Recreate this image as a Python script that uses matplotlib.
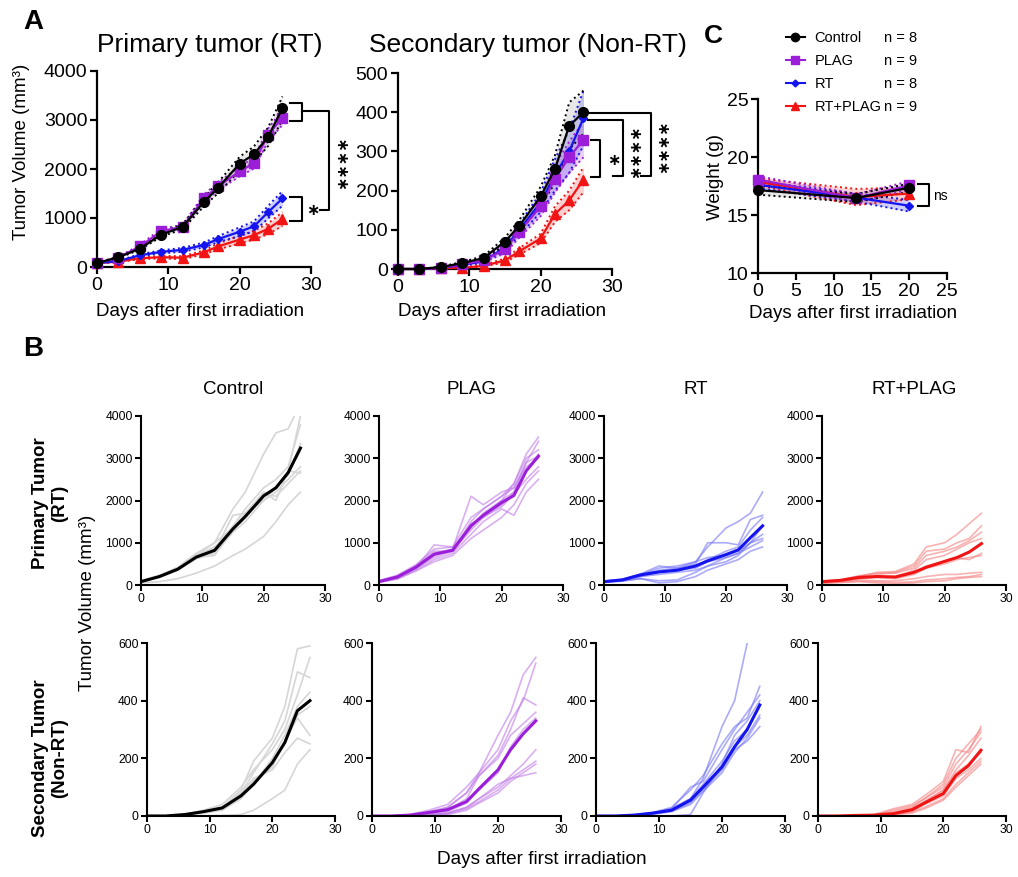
import numpy as np
import matplotlib
matplotlib.use('Agg')
import matplotlib.pyplot as plt
from matplotlib.lines import Line2D

plt.rcParams['font.family'] = ['Liberation Sans', 'DejaVu Sans']

W, H = 1018, 877

# ---------------- data ----------------
days = [0, 3, 6, 9, 12, 15, 17, 20, 22, 24, 26]
w_days = [0, 13, 20]
groups = ['Control', 'PLAG', 'RT', 'RT+PLAG']
n_labels = ['n = 8', 'n = 9', 'n = 8', 'n = 9']

# panel A, primary tumor (mean / SEM)
ctrl_pri = [80, 200, 375, 660, 820, 1330, 1620, 2110, 2300, 2660, 3240]
plag_pri = [80, 190, 420, 730, 820, 1400, 1650, 1950, 2120, 2700, 3050]
rt_pri = [80, 120, 240, 310, 350, 450, 570, 720, 830, 1120, 1400]
rtplag_pri = [80, 110, 180, 200, 190, 300, 420, 560, 650, 780, 980]
ctrl_pri_sem = [5, 15, 25, 40, 50, 90, 110, 140, 160, 190, 240]
plag_pri_sem = [5, 15, 30, 50, 40, 80, 80, 100, 110, 130, 150]
rt_pri_sem = [5, 10, 20, 30, 40, 50, 60, 90, 100, 130, 150]
rtplag_pri_sem = [5, 10, 20, 25, 30, 40, 60, 80, 90, 110, 140]

# panel A, secondary tumor (mean / SEM)
ctrl_sec = [0, 0, 5, 15, 28, 70, 110, 185, 255, 365, 400]
plag_sec = [0, 0, 3, 12, 22, 50, 95, 160, 230, 285, 330]
rt_sec = [0, 0, 3, 10, 20, 55, 100, 170, 240, 300, 385]
rtplag_sec = [0, 0, 2, 3, 8, 22, 45, 78, 140, 175, 228]
ctrl_sec_sem = [0, 0, 1, 3, 5, 10, 15, 25, 35, 60, 55]
plag_sec_sem = [0, 0, 1, 3, 5, 10, 15, 25, 35, 40, 45]
rt_sec_sem = [0, 0, 1, 2, 4, 8, 14, 25, 40, 55, 70]
rtplag_sec_sem = [0, 0, 1, 1, 2, 5, 8, 12, 20, 25, 32]

# panel C, body weight (mean / SEM)
ctrl_w = [17.15, 16.46, 17.35]
plag_w = [18.05, 16.45, 17.55]
rt_w = [17.6, 16.5, 15.8]
rtplag_w = [17.85, 16.55, 16.85]
ctrl_w_sem = [0.4, 0.35, 0.35]
plag_w_sem = [0.3, 0.35, 0.35]
rt_w_sem = [0.3, 0.35, 0.5]
rtplag_w_sem = [0.3, 0.7, 0.5]

# panel B, individual mice, primary tumor
ctrl_pri_ind = [
    [80, 200, 400, 700, 1000, 1800, 2200, 3100, 3600, 3700, 4300],
    [50, 80, 150, 280, 450, 700, 850, 1150, 1500, 1900, 2200],
    [80, 200, 380, 650, 800, 1650, 1700, 2200, 2000, 2700, 4000],
    [90, 220, 400, 700, 850, 1400, 1800, 2300, 2500, 2800, 3800],
    [70, 180, 350, 650, 700, 1300, 1600, 2100, 2300, 2600, 3350],
    [80, 190, 350, 620, 750, 1250, 1500, 2000, 2200, 2500, 2800],
    [90, 210, 400, 700, 900, 1300, 1650, 2150, 2100, 2400, 2700],
    [100, 230, 420, 750, 1000, 1350, 1700, 2000, 2300, 2700, 2650],
]
plag_pri_ind = [
    [90, 200, 400, 950, 900, 1350, 1700, 2000, 2400, 3100, 3500],
    [80, 180, 420, 750, 850, 2100, 1900, 2200, 2300, 2900, 3400],
    [100, 220, 450, 800, 800, 1500, 1800, 2100, 2400, 3000, 3200],
    [70, 150, 350, 600, 750, 1200, 1500, 1800, 1650, 2200, 2500],
    [90, 200, 420, 700, 850, 1450, 1600, 1900, 2200, 2700, 3100],
    [80, 160, 380, 650, 800, 1300, 1600, 1850, 2150, 2500, 2800],
    [100, 230, 480, 850, 900, 1600, 1800, 2100, 2300, 2800, 3000],
    [60, 140, 330, 550, 700, 1100, 1300, 1600, 1900, 2400, 2700],
    [90, 190, 400, 700, 820, 1400, 1650, 2000, 2200, 2900, 3050],
]
rt_pri_ind = [
    [90, 130, 250, 400, 450, 550, 900, 1350, 1500, 1700, 2200],
    [80, 120, 230, 350, 400, 500, 1000, 1000, 950, 1550, 1650],
    [70, 110, 200, 300, 350, 450, 600, 800, 900, 1300, 1600],
    [80, 100, 150, 100, 120, 300, 450, 650, 750, 1000, 1200],
    [60, 90, 150, 50, 80, 200, 350, 500, 600, 800, 900],
    [90, 140, 260, 450, 400, 550, 650, 700, 800, 1000, 1100],
    [80, 120, 220, 300, 350, 400, 550, 650, 750, 900, 1050],
    [70, 110, 200, 250, 300, 350, 450, 550, 700, 1000, 1400],
]
rtplag_pri_ind = [
    [90, 110, 200, 300, 320, 500, 900, 1000, 1200, 1450, 1700],
    [80, 100, 180, 250, 300, 450, 800, 850, 1000, 1100, 1400],
    [90, 120, 220, 280, 280, 400, 700, 800, 900, 1050, 1250],
    [70, 100, 150, 200, 200, 350, 600, 700, 850, 1000, 1100],
    [80, 100, 160, 200, 180, 300, 450, 550, 650, 600, 750],
    [70, 90, 150, 180, 150, 250, 400, 500, 600, 650, 700],
    [60, 80, 120, 100, 100, 150, 200, 250, 250, 280, 300],
    [50, 70, 90, 80, 60, 80, 120, 150, 180, 200, 250],
    [40, 60, 80, 50, 30, 50, 80, 100, 150, 180, 200],
]

# panel B, individual mice, secondary tumor
ctrl_sec_ind = [
    [0, 0, 5, 15, 30, 90, 190, 270, 380, 580, 590],
    [0, 0, 4, 12, 25, 80, 150, 250, 330, 500, 480],
    [0, 0, 5, 20, 40, 100, 160, 230, 300, 420, 550],
    [0, 0, 3, 10, 20, 60, 110, 200, 280, 380, 430],
    [0, 0, 3, 12, 25, 70, 120, 170, 260, 340, 280],
    [0, 0, 4, 15, 30, 80, 130, 160, 220, 270, 250],
    [0, 0, 0, 0, 2, 5, 20, 60, 90, 180, 230],
    [0, 0, 5, 18, 30, 75, 120, 180, 260, 350, 380],
]
plag_sec_ind = [
    [0, 0, 5, 20, 40, 100, 150, 280, 360, 490, 550],
    [0, 0, 3, 15, 30, 80, 150, 230, 330, 400, 530],
    [0, 0, 3, 12, 30, 80, 140, 210, 300, 410, 385],
    [0, 0, 2, 10, 20, 60, 140, 200, 280, 320, 360],
    [0, 0, 2, 8, 15, 45, 90, 150, 240, 300, 340],
    [0, 0, 1, 5, 10, 30, 60, 100, 140, 180, 230],
    [0, 0, 1, 3, 8, 25, 50, 90, 130, 160, 190],
    [0, 0, 1, 2, 5, 20, 45, 80, 120, 150, 180],
    [0, 0, 1, 3, 10, 30, 60, 110, 130, 140, 150],
]
rt_sec_ind = [
    [0, 0, 2, 10, 25, 60, 130, 310, 400, 600, np.nan],
    [0, 0, 2, 12, 30, 90, 140, 250, 310, 340, 450],
    [0, 0, 2, 10, 25, 100, 120, 230, 300, 360, 420],
    [0, 0, 0, 0, 0, 5, 80, 180, 280, 330, 400],
    [0, 0, 2, 10, 25, 60, 110, 190, 260, 300, 380],
    [0, 0, 2, 8, 20, 50, 100, 170, 240, 280, 350],
    [0, 0, 2, 8, 18, 45, 90, 160, 230, 260, 310],
    [0, 0, 1, 6, 15, 40, 85, 150, 220, 270, 340],
]
rtplag_sec_ind = [
    [0, 0, 1, 5, 25, 40, 70, 120, 230, 220, 310],
    [0, 0, 1, 4, 20, 35, 60, 110, 200, 250, 300],
    [0, 0, 1, 3, 15, 30, 60, 100, 180, 230, 290],
    [0, 0, 1, 3, 10, 25, 50, 90, 160, 210, 270],
    [0, 0, 0, 2, 8, 20, 45, 80, 140, 170, 230],
    [0, 0, 0, 2, 6, 15, 40, 70, 130, 160, 200],
    [0, 0, 0, 1, 5, 15, 30, 60, 110, 150, 190],
    [0, 0, 0, 1, 4, 10, 25, 55, 100, 140, 180],
    [0, 0, 0, 1, 5, 20, 50, 90, 150, 180, 220],
]

# ---------------- style ----------------
colors = ['black', '#9b1fd8', '#1414ee', '#f01414']
band_colors = ['#8a8a8a', '#9b1fd8', '#1414ee', '#f01414']
ind_colors = ['#d6d6d6', '#c07ae8', '#7474f5', '#f58080']
markers = ['o', 's', 'D', '^']
msizes = [7, 6.5, 4.5, 7]
STAR = dict(family='DejaVu Sans', fontsize=11.5, fontweight='bold',
            ha='center', va='center', clip_on=False)

fig = plt.figure(figsize=(W / 100, H / 100), dpi=100)


def px_axes(l, r, t, b):
    return fig.add_axes([l / W, 1 - b / H, (r - l) / W, (b - t) / H])


def ftext(x, y, s, **kw):
    return fig.text(x / W, 1 - y / H, s, **kw)


def prism(ax, lw=1.6, ticklen=5, fs=14):
    ax.spines['top'].set_visible(False)
    ax.spines['right'].set_visible(False)
    ax.spines['left'].set_linewidth(lw)
    ax.spines['bottom'].set_linewidth(lw)
    ax.tick_params(direction='out', length=ticklen, width=lw, labelsize=fs, pad=2)


def mean_panel(ax, means, sems, xs):
    for i in [3, 2, 1, 0]:
        m = np.array(means[i], float)
        s = np.array(sems[i], float)
        ax.fill_between(xs, m - s, m + s, color=band_colors[i], alpha=0.2, lw=0)
        ax.plot(xs, m - s, ':', color=colors[i], lw=1.4)
        ax.plot(xs, m + s, ':', color=colors[i], lw=1.4)
    for i in [3, 2, 1, 0]:
        ax.plot(xs, means[i], color=colors[i], marker=markers[i], ms=msizes[i],
                lw=1.6, clip_on=False, zorder=5)


def bracket(ax, x0, x1, y0, y1):
    ax.plot([x0, x1, x1, x0], [y0, y0, y1, y1], color='black', lw=1.5, clip_on=False)


def hv(ax, xs, ys):
    ax.plot(xs, ys, color='black', lw=1.5, clip_on=False)


# ---------------- panel A: primary ----------------
axA1 = px_axes(97, 311, 71, 267)
mean_panel(axA1, [ctrl_pri, plag_pri, rt_pri, rtplag_pri],
           [ctrl_pri_sem, plag_pri_sem, rt_pri_sem, rtplag_pri_sem], days)
axA1.set_xlim(0, 30)
axA1.set_ylim(0, 4000)
axA1.set_xticks([0, 10, 20, 30])
axA1.set_yticks([0, 1000, 2000, 3000, 4000])
prism(axA1)
bracket(axA1, 27.1, 28.7, 3340, 2985)
bracket(axA1, 27.1, 28.7, 1430, 940)
hv(axA1, [28.7, 32.5, 32.5, 31.2], [3180, 3180, 1160, 1160])
axA1.text(30.2, 1160, '∗', **STAR)
axA1.text(34.4, 2130, '∗∗∗∗', rotation=90, **STAR)

ftext(210, 45, 'Primary tumor (RT)', fontsize=19, ha='center', va='center')
ftext(22, 152, 'Tumor Volume (mm³)', fontsize=13.5, rotation=90, ha='center', va='center')
ftext(200, 311, 'Days after first irradiation', fontsize=13.5, ha='center', va='center')

# ---------------- panel A: secondary ----------------
axA2 = px_axes(398, 612, 73, 269)
mean_panel(axA2, [ctrl_sec, plag_sec, rt_sec, rtplag_sec],
           [ctrl_sec_sem, plag_sec_sem, rt_sec_sem, rtplag_sec_sem], days)
axA2.set_xlim(0, 30)
axA2.set_ylim(0, 500)
axA2.set_xticks([0, 10, 20, 30])
axA2.set_yticks([0, 100, 200, 300, 400, 500])
prism(axA2)
bracket(axA2, 27.0, 28.3, 329, 234)
axA2.text(30.3, 278, '∗', **STAR)
hv(axA2, [26.7, 31.55, 31.55, 30.2], [381, 381, 236, 236])
axA2.text(33.3, 300, '∗∗∗∗', rotation=90, **STAR)
hv(axA2, [26.7, 35.5, 35.5, 34.0], [397, 397, 236, 236])
axA2.text(37.2, 312, '∗∗∗∗', rotation=90, **STAR)

ftext(528, 45, 'Secondary tumor (Non-RT)', fontsize=19, ha='center', va='center')
ftext(502, 312, 'Days after first irradiation', fontsize=13.5, ha='center', va='center')

# ---------------- panel C: weight ----------------
axC = px_axes(758, 947, 99, 273)
mean_panel(axC, [ctrl_w, plag_w, rt_w, rtplag_w],
           [ctrl_w_sem, plag_w_sem, rt_w_sem, rtplag_w_sem], w_days)
axC.set_xlim(0, 25)
axC.set_ylim(10, 25)
axC.set_xticks([0, 5, 10, 15, 20, 25])
axC.set_yticks([10, 15, 20, 25])
prism(axC)
bracket(axC, 21.1, 22.6, 17.65, 15.8)
axC.text(23.1, 16.65, 'ns', fontsize=10, ha='left', va='center', clip_on=False)

ftext(853, 314, 'Days after first irradiation', fontsize=13.5, ha='center', va='center')
ftext(715, 177, 'Weight (g)', fontsize=13.5, rotation=90, ha='center', va='center')

handles = [Line2D([], [], color=colors[i], marker=markers[i], ms=msizes[i] - 1, lw=1.5)
           for i in range(4)]
leg_kw = dict(bbox_transform=fig.transFigure, frameon=False, fontsize=10.5, borderpad=0,
              labelspacing=0.62, borderaxespad=0, loc='upper left')
fig.legend(handles, groups, bbox_to_anchor=(786 / W, 1 - 31 / H),
           handlelength=1.3, handletextpad=0.65, **leg_kw)
blank = [Line2D([], [], lw=0) for _ in range(4)]
fig.legend(blank, n_labels, bbox_to_anchor=(884 / W, 1 - 31 / H),
           handlelength=0, handletextpad=0, **leg_kw)

# ---------------- panel B ----------------
row1_x = [(141, 325), (379, 563), (604, 787), (822, 1006)]
row2_x = [(147, 335), (372, 561), (596, 785), (818, 1006)]
pri_ind = [ctrl_pri_ind, plag_pri_ind, rt_pri_ind, rtplag_pri_ind]
sec_ind = [ctrl_sec_ind, plag_sec_ind, rt_sec_ind, rtplag_sec_ind]
pri_means = [ctrl_pri, plag_pri, rt_pri, rtplag_pri]
sec_means = [ctrl_sec, plag_sec, rt_sec, rtplag_sec]

for i in range(4):
    l, r = row1_x[i]
    ax = px_axes(l, r, 416, 585)
    for mouse in pri_ind[i]:
        ax.plot(days, mouse, color=ind_colors[i], lw=1.2, alpha=0.6 if i else 1)
    ax.plot(days, pri_means[i], color=colors[i], lw=2.2)
    ax.set_xlim(0, 30)
    ax.set_ylim(0, 4000)
    ax.set_xticks([0, 10, 20, 30])
    ax.set_yticks([0, 1000, 2000, 3000, 4000])
    prism(ax, lw=1.5, ticklen=4, fs=8.7)
    ftext((l + r) / 2, 390, groups[i], fontsize=13.5, ha='center', va='center')

    l, r = row2_x[i]
    ax = px_axes(l, r, 643, 816)
    for mouse in sec_ind[i]:
        ax.plot(days, mouse, color=ind_colors[i], lw=1.2, alpha=0.6 if i else 1)
    ax.plot(days, sec_means[i], color=colors[i], lw=2.2)
    ax.set_xlim(0, 30)
    ax.set_ylim(0, 600)
    ax.set_xticks([0, 10, 20, 30])
    ax.set_yticks([0, 200, 400, 600])
    prism(ax, lw=1.5, ticklen=4, fs=8.7)

ftext(50, 503, 'Primary Tumor\n(RT)', fontsize=13.5, fontweight='bold', rotation=90,
      ha='center', va='center', multialignment='center')
ftext(50, 758, 'Secondary Tumor\n(Non-RT)', fontsize=13.5, fontweight='bold', rotation=90,
      ha='center', va='center', multialignment='center')
ftext(88, 603, 'Tumor Volume (mm³)', fontsize=13.5, rotation=90, ha='center', va='center')
ftext(542, 860, 'Days after first irradiation', fontsize=13.7, ha='center', va='center')

# panel letters
ftext(33, 22, 'A', fontsize=20, fontweight='bold', ha='center', va='center')
ftext(33, 349, 'B', fontsize=20, fontweight='bold', ha='center', va='center')
ftext(713, 36, 'C', fontsize=19, fontweight='bold', ha='center', va='center')

fig.savefig('out.png', dpi=100)
